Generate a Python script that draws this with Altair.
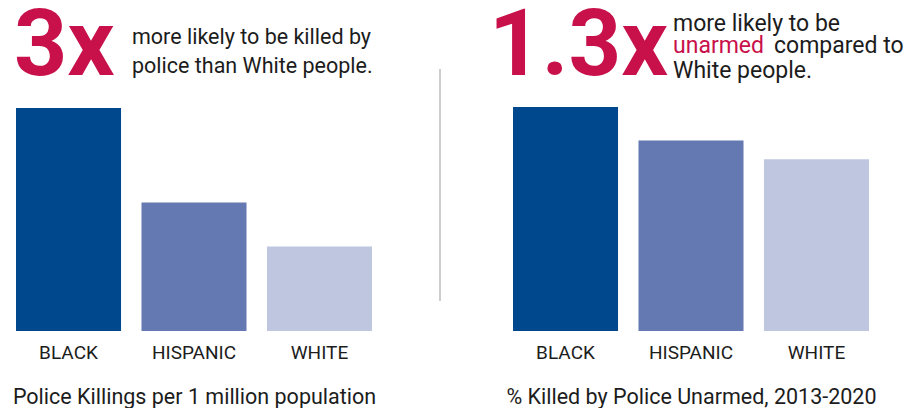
import altair as alt
import pandas as pd

RACES = ["BLACK", "HISPANIC", "WHITE"]
COLORS = ["#00488D", "#6479B1", "#BFC7E0"]
KILLINGS_PER_MILLION = [6.6, 3.8, 2.5]
PCT_UNARMED = [16.7, 14.2, 12.8]

LEFT_BIG = "3x"
LEFT_LINES = ["more likely to be killed by", "police than White people."]
RIGHT_BIG = "1.3x"
RIGHT_LINE1 = "more likely to be"
RIGHT_RED = "unarmed"
RIGHT_LINE2_REST = "compared to"
RIGHT_LINE3 = "White people."
LEFT_TITLE = "Police Killings per 1 million population"
RIGHT_TITLE = "% Killed by Police Unarmed, 2013-2020"

RED = "#C8104A"
INK = "#1c1c1c"
FONT = "Roboto"
H = 323

left_df = pd.DataFrame({"race": RACES, "value": KILLINGS_PER_MILLION})
right_df = pd.DataFrame({"race": RACES, "value": PCT_UNARMED})
one = pd.DataFrame({"k": [0]})


def bars(df, xrange, yrange, title):
    return alt.Chart(df).mark_bar().encode(
        x=alt.X("race:N", sort=RACES,
                scale=alt.Scale(range=xrange, paddingInner=0.163, paddingOuter=0),
                axis=alt.Axis(title=title, domain=False, ticks=False, labelAngle=0,
                              labelPadding=12, labelFontSize=19, labelFont=FONT,
                              labelColor=INK, titleFont=FONT, titleFontSize=21.5,
                              titleFontWeight="normal", titleColor=INK, titlePadding=24)),
        y=alt.Y("value:Q", scale=alt.Scale(domain=[0, max(df["value"])], range=yrange),
                axis=None),
        color=alt.Color("race:N", sort=RACES,
                        scale=alt.Scale(domain=RACES, range=COLORS), legend=None),
    )


def txt(text, x, y, size, color=INK, weight="normal", lh=29):
    return alt.Chart(one).mark_text(
        text=text, align="left", baseline="alphabetic", font=FONT,
        fontSize=size, fontWeight=weight, color=color, lineHeight=lh,
    ).encode(x=alt.value(x), y=alt.value(y))


left = alt.layer(
    bars(left_df, [8, 364], [H, 100], LEFT_TITLE),
    txt(LEFT_BIG, 6, 67, 93, RED, "bold"),
    txt(LEFT_LINES, 124, 36, 21.5),
    alt.Chart(one).mark_rule(color="#bdbdbd", strokeWidth=1.5).encode(
        x=alt.value(432), y=alt.value(61), y2=alt.value(293)),
).properties(width=433, height=H)

right = alt.layer(
    bars(right_df, [72, 428], [H, 99], RIGHT_TITLE),
    txt(RIGHT_BIG, 48, 67, 92, RED, "bold"),
    txt(RIGHT_LINE1, 232, 23, 23),
    txt(RIGHT_RED, 232, 45, 23, RED),
    txt(RIGHT_LINE2_REST, 333, 45, 23),
    txt(RIGHT_LINE3, 232, 70, 23),
).properties(width=464, height=H)

chart = alt.hconcat(left, right, spacing=0).properties(
    padding={"top": -7, "left": 0, "right": 0, "bottom": 0}, background="white"
).configure_view(stroke=None)

chart.save("out.html", embed_options={"renderer": "svg", "actions": False})
